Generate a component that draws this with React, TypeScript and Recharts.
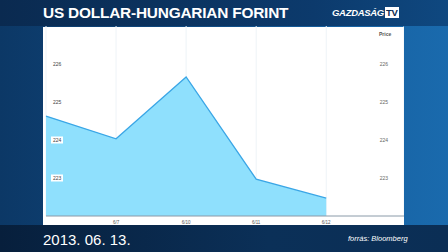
import React from "react";
import { AreaChart, Area, XAxis, YAxis, CartesianGrid } from "recharts";

// USD/HUF daily close, 6/6 .. 6/12
const days = ["6/6", "6/7", "6/10", "6/11", "6/12"];
const prices = [224.63, 224.03, 225.66, 222.97, 222.47];
const xTicks = [1, 2, 3, 4];
const yTicks = [223, 224, 225, 226];

const data = days.map((d, i) => ({ i, day: d, price: prices[i] }));

const font = "Arial, 'Liberation Sans', sans-serif";

// price labels are shown on both sides of the plot, inside it
const PriceTick = (props: any) => {
  const { y, payload } = props;
  return (
    <g>
      <rect x={8} y={y - 3.5} width={12} height={7} fill="#fff" />
      <text x={10} y={y + 2} fontSize={5} fill="#444" fontFamily={font}>
        {payload.value}
      </text>
      <text x={345} y={y + 2} fontSize={5} fill="#666" textAnchor="end" fontFamily={font}>
        {payload.value}
      </text>
    </g>
  );
};

export default function App() {
  return (
    <div
      style={{
        position: "absolute",
        left: 0,
        top: 0,
        width: 448,
        height: 252,
        overflow: "hidden",
        fontFamily: font,
        background: "linear-gradient(90deg, #0c3866 0%, #0f4a82 45%, #1763a4 80%, #1a6aad 100%)",
      }}
    >
      {/* darker header and footer bands */}
      <div style={{ position: "absolute", left: 0, top: 0, width: 448, height: 26, background: "linear-gradient(90deg, #0a2a50, #0c3a6c 70%, #0f4880)" }} />
      <div style={{ position: "absolute", left: 0, top: 225, width: 448, height: 27, background: "linear-gradient(90deg, #071f3c, #0b3058 60%, #0b2e55)" }} />

      <div style={{ position: "absolute", left: 43, top: 4, color: "#fff", fontWeight: 700, fontSize: 15.4, letterSpacing: -0.2, lineHeight: "18px" }}>
        US DOLLAR-HUNGARIAN FORINT
      </div>
      <div style={{ position: "absolute", left: 332, top: 7, color: "#fff", fontWeight: 700, fontStyle: "italic", fontSize: 9.5, letterSpacing: -0.3, lineHeight: "11px" }}>
        GAZDASÁG
        <span style={{ background: "#fff", color: "#0a2a50", fontStyle: "normal", padding: "0 1px", marginLeft: 1 }}>TV</span>
      </div>

      <div style={{ position: "absolute", left: 43, top: 27, width: 361, height: 198, background: "#fff" }} />
      <div style={{ position: "absolute", left: 43, top: 26 }}>
        <AreaChart width={361} height={198} data={data} margin={{ top: 0, right: 0, left: 3, bottom: 0 }}>
          <CartesianGrid horizontal={false} stroke="#eef3f7" />
          <XAxis
            dataKey="i"
            type="number"
            domain={[0, 5.11]}
            ticks={xTicks}
            tickFormatter={(v: number) => days[v]}
            height={8}
            tickLine={false}
            axisLine={{ stroke: "#8a9aa8" }}
            tick={{ fontSize: 4.5, fill: "#555" }}
            tickMargin={-1}
          />
          <YAxis mirror domain={[222, 227]} ticks={yTicks} width={30} axisLine={false} tickLine={false} tick={PriceTick} />
          <Area
            type="linear"
            dataKey="price"
            stroke="#3aa6e6"
            strokeWidth={1.3}
            fill="#8fe0fd"
            fillOpacity={1}
            isAnimationActive={false}
          />
        </AreaChart>
      </div>
      <div style={{ position: "absolute", left: 379, top: 31, fontSize: 5, fontWeight: 700, color: "#555" }}>Price</div>

      <div style={{ position: "absolute", left: 43, top: 231, color: "#fff", fontSize: 15, lineHeight: "18px" }}>2013. 06. 13.</div>
      <div style={{ position: "absolute", left: 348, top: 234, color: "#fff", fontSize: 7.5, fontStyle: "italic", lineHeight: "9px" }}>forrás: Bloomberg</div>
    </div>
  );
}
